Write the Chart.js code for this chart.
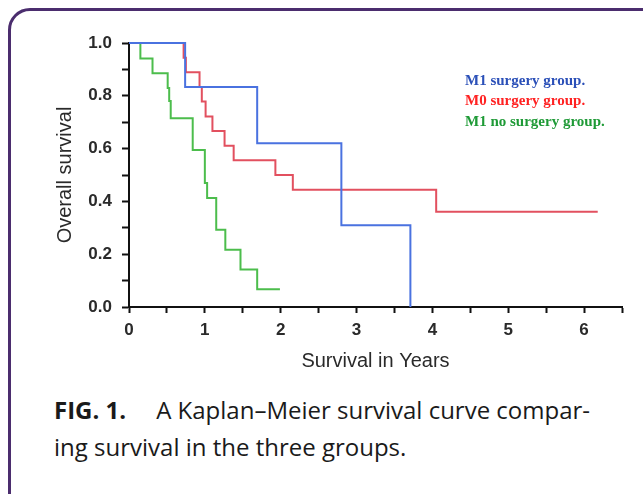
<!DOCTYPE html>
<html>
<head>
<meta charset="utf-8">
<script src="https://cdn.jsdelivr.net/npm/chart.js@4.4.1/dist/chart.umd.min.js"></script>
<style>
  html, body { margin: 0; padding: 0; background: #fff; }
  body { width: 643px; height: 494px; position: relative; overflow: hidden; }
  /* purple rounded frame, runs off the right and bottom edges */
  .frame {
    position: absolute; left: 8px; top: 8px; width: 700px; height: 560px;
    border: 3px solid #4b2d6e; border-radius: 22px; box-sizing: border-box;
  }
  .plot { position: absolute; left: 0; top: 0; width: 643px; height: 380px; }
  .caption {
    position: absolute; left: 54px; top: 391px; width: 585px;
    font-family: "Open Sans", sans-serif; font-size: 24px; line-height: 37px;
    color: #1a1a1a; white-space: nowrap;
  }
  .caption b { font-weight: 700; margin-right: 30px; }
</style>
</head>
<body>
<div class="frame"></div>
<div class="plot"><canvas id="kmChart" width="643" height="380"></canvas></div>
<div class="caption"><b>FIG. 1.</b>A Kaplan–Meier survival curve compar-<br>ing survival in the three groups.</div>

<script>
/* Kaplan–Meier steps: time of each drop (years) and survival after it */
const groupNames = ['M1 surgery group.', 'M0 surgery group.', 'M1 no surgery group.'];

const m1SurgeryYears = [0, 0.74, 1.69, 2.80, 3.71];
const m1SurgerySurv  = [1.0, 0.833, 0.62, 0.31, 0.0];

const m0SurgeryYears = [0, 0.72, 0.75, 0.93, 0.96, 1.01, 1.10, 1.26, 1.38, 1.93, 2.16, 4.05, 6.18];
const m0SurgerySurv  = [1.0, 0.944, 0.889, 0.833, 0.778, 0.722, 0.667, 0.611, 0.556, 0.5, 0.444, 0.361, 0.361];

const m1NoSurgeryYears = [0, 0.15, 0.31, 0.51, 0.53, 0.55, 0.84, 1.00, 1.03, 1.15, 1.27, 1.47, 1.69, 1.99];
const m1NoSurgerySurv  = [1.0, 0.941, 0.885, 0.83, 0.78, 0.715, 0.595, 0.47, 0.413, 0.293, 0.217, 0.142, 0.067, 0.067];

const xTickLabels = ['0', '1', '2', '3', '4', '5', '6'];
const yTickLabels = ['0.0', '0.2', '0.4', '0.6', '0.8', '1.0'];

const lineColors  = ['#4a72e0', '#e2505f', '#4cbd4c'];
const labelColors = ['#2b50b8', '#ff2222', '#1e9a36'];

const toPoints = (xs, ys) => xs.map((x, i) => ({ x: x, y: ys[i] }));

/* draws the coloured group names in the upper right, like the original */
const groupLabelPlugin = {
  id: 'groupLabels',
  afterDraw(chart) {
    const { ctx, chartArea } = chart;
    ctx.save();
    ctx.font = 'bold 15px "Liberation Serif", serif';
    ctx.textBaseline = 'middle';
    ctx.textAlign = 'left';
    groupNames.forEach((name, i) => {
      ctx.fillStyle = labelColors[i];
      ctx.fillText(name, chartArea.left + 336, chartArea.top + 38 + i * 20.5);
    });
    ctx.restore();
  }
};

const tickFont = { family: '"Liberation Sans", Arial, sans-serif', size: 17, weight: 'bold' };
const titleFont = { family: '"Liberation Sans", Arial, sans-serif', size: 20 };

new Chart(document.getElementById('kmChart').getContext('2d'), {
  type: 'line',
  data: {
    datasets: [
      { label: groupNames[0], data: toPoints(m1SurgeryYears, m1SurgerySurv) },
      { label: groupNames[1], data: toPoints(m0SurgeryYears, m0SurgerySurv) },
      { label: groupNames[2], data: toPoints(m1NoSurgeryYears, m1NoSurgerySurv) }
    ].map((ds, i) => Object.assign(ds, {
      borderColor: lineColors[i],
      borderWidth: 2,
      pointRadius: 0,
      stepped: 'before',   /* hold the value, then drop */
      fill: false,
      clip: 4
    }))
  },
  options: {
    responsive: false,
    animation: false,
    devicePixelRatio: 1,
    layout: { padding: { top: 43, right: 21, left: 0, bottom: 0 } },
    plugins: { legend: { display: false }, tooltip: { enabled: false } },
    scales: {
      x: {
        type: 'linear',
        min: 0,
        max: 6.5,
        afterFit: (s) => { s.height = 73; },
        border: { display: true, color: '#111', width: 2 },
        grid: { display: true, drawOnChartArea: false, drawTicks: true, tickLength: 6, tickColor: '#111', tickWidth: 2 },
        ticks: {
          stepSize: 0.5,
          autoSkip: false,
          maxRotation: 0,
          padding: 7,
          color: '#2a2a2a',
          font: tickFont,
          callback: (v) => (Number.isInteger(v) ? xTickLabels[v] : '')
        },
        title: {
          display: true,
          text: 'Survival in Years',
          color: '#2a2a2a',
          font: titleFont,
          padding: { top: 0, bottom: 7 }
        }
      },
      y: {
        min: 0,
        max: 1,
        afterFit: (s) => { s.width = 129; },
        border: { display: true, color: '#111', width: 2 },
        grid: { display: true, drawOnChartArea: false, drawTicks: true, tickLength: 7, tickColor: '#111', tickWidth: 2 },
        ticks: {
          stepSize: 0.1,
          autoSkip: false,
          padding: 10,
          color: '#2a2a2a',
          font: tickFont,
          callback: (v) => {
            const k = Math.round(v * 10);
            return k % 2 === 0 ? yTickLabels[k / 2] : '';
          }
        },
        title: {
          display: true,
          text: 'Overall survival',
          color: '#2a2a2a',
          font: titleFont,
          padding: { top: 53, bottom: 0 }
        }
      }
    }
  },
  plugins: [groupLabelPlugin]
});
</script>
</body>
</html>
